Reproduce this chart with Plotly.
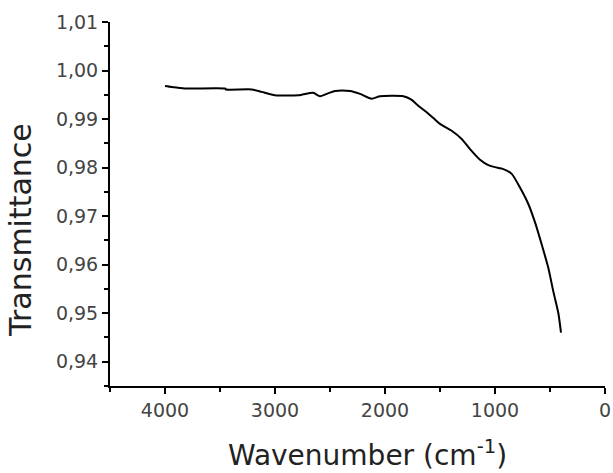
import plotly.graph_objects as go

# Wavenumber (cm^-1) and transmittance
wavenumber = [4000, 3940, 3820, 3455, 3445, 3212, 3121, 3000, 2788, 2742, 2652, 2591,
              2530, 2455, 2318, 2227, 2121, 2045, 1833, 1760, 1700, 1621, 1560, 1500,
              1394, 1303, 1227, 1136, 1061, 1000, 924, 848, 773, 697, 636, 576, 515,
              470, 424, 400]
transmittance = [0.9968, 0.9966, 0.9963, 0.9963, 0.9961, 0.9961, 0.9956, 0.9949,
                 0.9949, 0.9951, 0.9954, 0.9947, 0.9952, 0.9958, 0.9958, 0.9952,
                 0.9942, 0.9947, 0.9947, 0.9940, 0.9928, 0.9914, 0.9902, 0.9890,
                 0.9876, 0.9859, 0.9838, 0.9816, 0.9805, 0.9801, 0.9797, 0.9787,
                 0.9759, 0.9725, 0.9687, 0.9642, 0.9593, 0.9545, 0.9500, 0.9460]

x_ticks = [4000, 3000, 2000, 1000, 0]
y_ticks = [0.94, 0.95, 0.96, 0.97, 0.98, 0.99, 1.00, 1.01]
y_labels = ["0,94", "0,95", "0,96", "0,97", "0,98", "0,99", "1,00", "1,01"]
x_title = "Wavenumber (cm<sup>-1</sup>)"
y_title = "Transmittance"

FONT = "'DejaVu Sans', Verdana, sans-serif"

fig = go.Figure(go.Scatter(
    x=wavenumber, y=transmittance, mode="lines",
    line=dict(color="black", width=2, shape="spline", smoothing=0.6),
    showlegend=False,
))

fig.update_layout(
    width=613, height=473,
    margin=dict(l=110, r=8, t=22, b=87),
    paper_bgcolor="white", plot_bgcolor="white",
    font=dict(family=FONT, color="#444"),
)

fig.update_xaxes(
    range=[4500, 0], tickmode="array", tickvals=x_ticks, automargin=False,
    ticks="outside", ticklen=6, tickwidth=2, tickcolor="black",
    minor=dict(dtick=500, ticks="outside", ticklen=4, tickwidth=2, tickcolor="black"),
    showline=True, linecolor="black", linewidth=2, showgrid=False, zeroline=False,
    tickfont=dict(size=19, color="#444"),
)
fig.update_yaxes(
    range=[0.935, 1.01], tickmode="array", tickvals=y_ticks, ticktext=y_labels,
    automargin=False,
    ticks="outside", ticklen=6, tickwidth=2, tickcolor="black",
    minor=dict(dtick=0.005, ticks="outside", ticklen=4, tickwidth=2, tickcolor="black"),
    showline=True, linecolor="black", linewidth=2, showgrid=False, zeroline=False,
    tickfont=dict(size=19, color="#444"),
)

fig.add_annotation(
    text=x_title, xref="paper", yref="paper", x=0.521, y=-0.186,
    xanchor="center", yanchor="middle", showarrow=False,
    font=dict(size=28, color="#222", family=FONT),
)
fig.add_annotation(
    text=y_title, xref="paper", yref="paper", x=-0.180, y=0.4286,
    xanchor="center", yanchor="middle", showarrow=False, textangle=-90,
    font=dict(size=30, color="#222", family=FONT),
)

fig.write_html("out.html")
